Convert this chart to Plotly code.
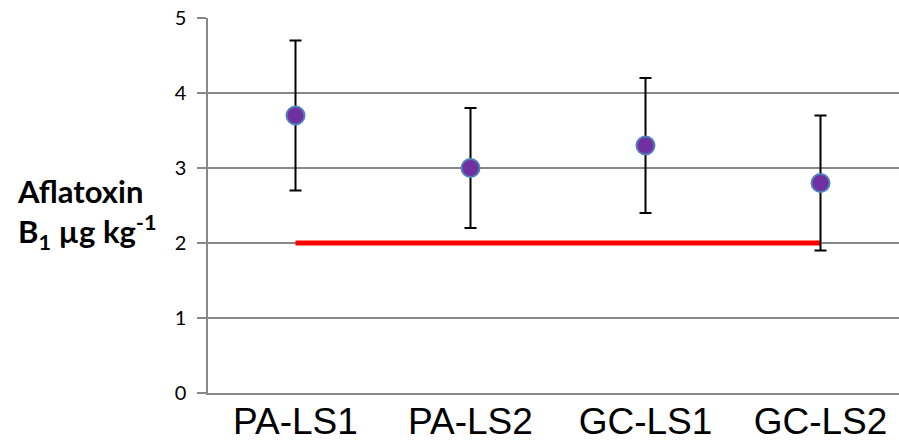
import plotly.graph_objects as go

# Sample sites and aflatoxin B1 results
sites = ["PA-LS1", "PA-LS2", "GC-LS1", "GC-LS2"]
means = [3.7, 3.0, 3.3, 2.8]
errors = [1.0, 0.8, 0.9, 0.9]
limit = [2.0, 2.0, 2.0, 2.0]
y_ticks = [0, 1, 2, 3, 4, 5]

W, H = 899, 443
ML, MR, MT, MB = 208, 0, 18, 50
plot_w = W - ML - MR
cat_w = 175.0  # pixel width of one category band

fig = go.Figure()

# Regulatory limit line
fig.add_trace(go.Scatter(
    x=sites, y=limit, mode="lines",
    line=dict(color="#FF0000", width=5),
    hoverinfo="skip", showlegend=False,
))

# Means with error bars
fig.add_trace(go.Scatter(
    x=sites, y=means, mode="markers",
    marker=dict(size=18, color="#7030A0",
                line=dict(color="#4F81BD", width=2)),
    error_y=dict(type="data", array=errors, visible=True,
                 color="black", thickness=2, width=6),
    showlegend=False,
))

fig.update_layout(
    width=W, height=H,
    margin=dict(l=ML, r=MR, t=MT, b=MB),
    paper_bgcolor="white", plot_bgcolor="white",
    xaxis=dict(
        type="category", automargin=False,
        range=[-0.5, -0.5 + plot_w / cat_w],
        showgrid=False, zeroline=False,
        showline=True, linecolor="#888888", linewidth=1.5,
        ticks="", ticklabelstandoff=-5,
        tickfont=dict(family="Liberation Sans, Arial", size=37, color="black"),
    ),
    yaxis=dict(
        range=[0, 5], tickvals=y_ticks, automargin=False,
        showgrid=True, gridcolor="#888888", gridwidth=1.5,
        zeroline=False,
        showline=True, linecolor="#888888", linewidth=1.5,
        ticks="outside", ticklen=9, tickcolor="#888888", tickwidth=1.5,
        ticklabelstandoff=7,
        tickfont=dict(family="Lato, Carlito, Calibri", size=20, color="black"),
    ),
    annotations=[dict(
        text="<b>Aflatoxin<br>B<sub>1</sub> µg kg<sup>-1</sup></b>",
        xref="paper", yref="paper",
        x=(15 - ML) / plot_w, y=0.48,
        xanchor="left", yanchor="middle", align="left",
        showarrow=False,
        font=dict(family="Lato, Carlito, Calibri", size=31, color="black"),
    )],
)

fig.write_html("out.html")
